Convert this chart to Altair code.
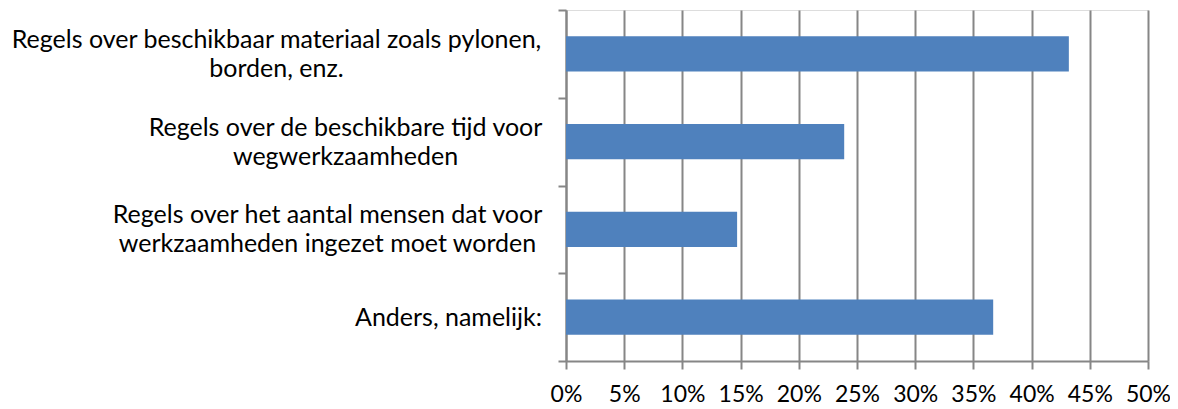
import json
import altair as alt
import pandas as pd

categories = [
    "Regels over beschikbaar materiaal zoals pylonen,\nborden, enz.",
    "Regels over de beschikbare tijd voor\nwegwerkzaamheden",
    "Regels over het aantal mensen dat voor\nwerkzaamheden ingezet moet worden",
    "Anders, namelijk:",
]
values = [0.432, 0.239, 0.147, 0.367]
x_ticks = [0, 0.05, 0.10, 0.15, 0.20, 0.25, 0.30, 0.35, 0.40, 0.45, 0.50]

# distance of each centred (multi-line) label's centre from the tick end
label_pads = [282, 213, 231, 110]

df = pd.DataFrame({"cat": categories, "val": values})

FONT = "Lato"
GRID = "#868686"

pad_cond = {
    "condition": [
        {"test": f"datum.value === {json.dumps(c)}", "value": p}
        for c, p in zip(categories[:-1], label_pads[:-1])
    ],
    "value": label_pads[-1],
}
offset_cond = {
    "condition": [
        {"test": f"datum.value === {json.dumps(c)}", "value": -14.5}
        for c in categories[:-1]
    ],
    "value": 0,
}

chart = (
    alt.Chart(df)
    .mark_bar(color="#4F81BD", height={"band": 0.4})
    .encode(
        x=alt.X(
            "val:Q",
            scale=alt.Scale(domain=[0, 0.5], nice=False),
            axis=alt.Axis(
                values=x_ticks,
                format=".0%",
                title=None,
                grid=True,
                gridColor=GRID,
                gridWidth=2,
                domainColor=GRID,
                domainWidth=2,
                tickColor=GRID,
                tickWidth=2,
                tickSize=8,
                labelFont=FONT,
                labelFontSize=23,
                labelColor="#000000",
                labelPadding=14,
                labelFlush=False,
            ),
        ),
        y=alt.Y(
            "cat:N",
            sort=categories,
            scale=alt.Scale(paddingInner=0, paddingOuter=0),
            axis=alt.Axis(
                title=None,
                grid=False,
                tickBand="extent",
                domainColor=GRID,
                domainWidth=2,
                tickColor=GRID,
                tickWidth=2,
                tickSize=8,
                labelFont=FONT,
                labelFontSize=25,
                labelColor="#000000",
                labelLineHeight=29,
                labelAlign="center",
                labelPadding=pad_cond,
                labelOffset=offset_cond,
                labelExpr="split(datum.label, '\\n')",
                labelLimit=0,
            ),
        ),
    )
    .properties(
        width=582,
        height=351,
        autosize=alt.AutoSizeParams(type="none"),
        padding={"left": 558, "top": 2, "right": 22, "bottom": 48},
    )
    .configure_view(stroke=None)
    .configure(background="white")
)

chart.save("out.html", embed_options={"renderer": "svg", "actions": False})
